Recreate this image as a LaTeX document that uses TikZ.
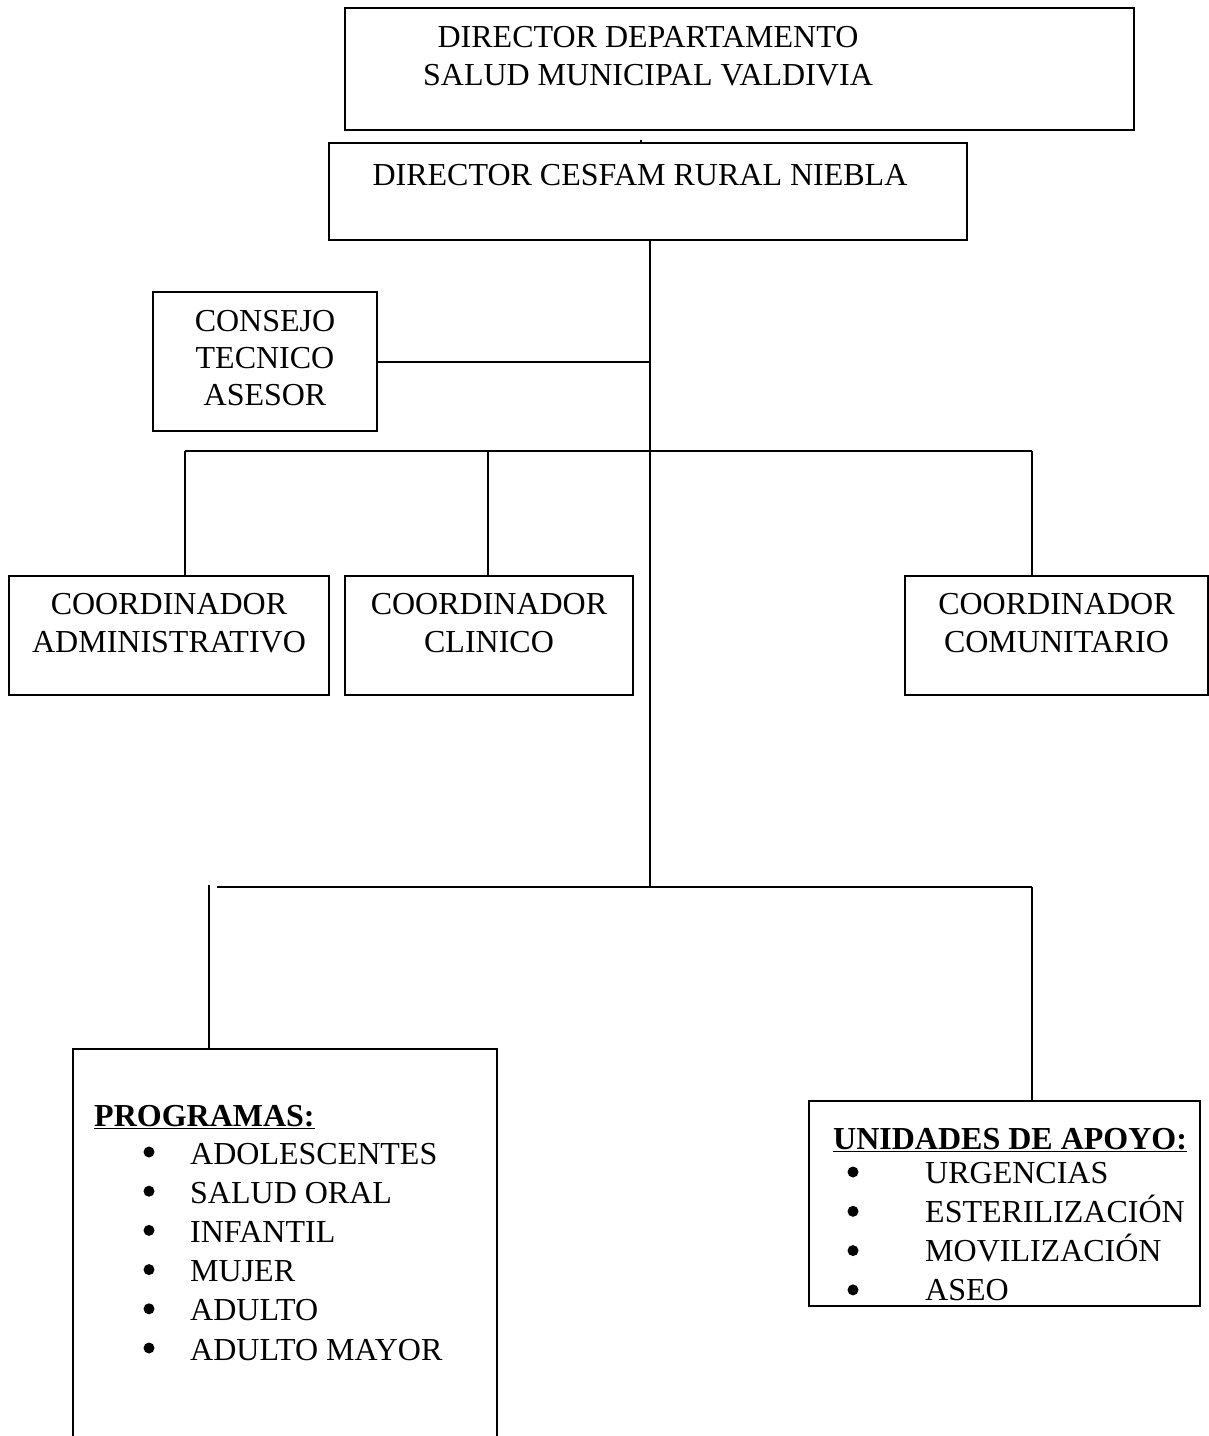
\documentclass[tikz,border=0pt]{standalone}
\usepackage{fontspec}
\setmainfont{Liberation Serif}
\begin{document}
\begin{tikzpicture}[x=1pt,y=-1pt,
  box/.style={draw, line width=1.8pt, rectangle, inner sep=0pt},
  txt/.style={font=\fontsize{32}{38}\selectfont, align=center, inner sep=0pt},
  itm/.style={font=\fontsize{32}{38}\selectfont, anchor=base west, inner sep=0pt},
  dot/.style={circle, fill=black, inner sep=0pt, minimum size=11pt},
  ln/.style={line width=1.8pt}]
\useasboundingbox (0,0) rectangle (1209,1436);

% boxes
\node[box, minimum width=789pt, minimum height=122pt] (b1) at (739.5,69) {};
\node[txt] (b1t) at (648,56) {DIRECTOR DEPARTAMENTO\\SALUD MUNICIPAL VALDIVIA};

\node[box, minimum width=638pt, minimum height=97pt] (b2) at (648,191.5) {};
\node[txt] (b2t) at (640,175) {DIRECTOR CESFAM RURAL NIEBLA};

\node[box, minimum width=224pt, minimum height=139pt] (cons) at (265,361.5) {};
\node[txt, font=\fontsize{32}{37}\selectfont] (const) at (265,358) {CONSEJO\\TECNICO\\ASESOR};

\node[box, minimum width=320pt, minimum height=119pt] (adm) at (169,635.5) {};
\node[txt] (admt) at (169,623.5) {COORDINADOR\\ADMINISTRATIVO};

\node[box, minimum width=288pt, minimum height=119pt] (cli) at (489,635.5) {};
\node[txt] (clit) at (489,623.5) {COORDINADOR\\CLINICO};

\node[box, minimum width=303pt, minimum height=119pt] (com) at (1056.5,635.5) {};
\node[txt] (comt) at (1056.5,623.5) {COORDINADOR\\COMUNITARIO};

\node[box, minimum width=424pt, minimum height=401pt] (prog) at (285,1249.5) {};
\node[itm] (progh) at (94,1126) {\textbf{\underline{PROGRAMAS:}}};
\foreach \t [count=\i] in {ADOLESCENTES,SALUD ORAL,INFANTIL,MUJER,ADULTO,ADULTO MAYOR}{
  \node[dot] (pb\i) at (149,{1152+39.2*(\i-1)}) {};
  \node[itm] (pi\i) at (190,{1164+39.2*(\i-1)}) {\t};
}

\node[box, minimum width=391pt, minimum height=205pt] (uni) at (1004.5,1203.5) {};
\node[itm] (unih) at (833,1149) {\textbf{\underline{UNIDADES DE APOYO:}}};
\foreach \t [count=\i] in {URGENCIAS,ESTERILIZACIÓN,MOVILIZACIÓN,ASEO}{
  \node[dot] (ub\i) at (853,{1172+39.3*(\i-1)}) {};
  \node[itm] (ui\i) at (925,{1183+39.3*(\i-1)}) {\t};
}

% connectors
\coordinate (t) at (641,140);
\draw[ln] (t) -- (t |- b2.north);

\coordinate (j1) at (650,362);
\coordinate (j2) at (650,451);
\coordinate (j3) at (650,887);
\draw[ln] (b2.south -| j1) -- (j3);
\draw[ln] (cons.east |- j1) -- (j1);

\coordinate (h1) at (185,451);
\coordinate (h2) at (488,451);
\coordinate (h4) at (1032,451);
\draw[ln] (h1) -- (h4);
\draw[ln] (h1) -- (h1 |- adm.north);
\draw[ln] (h2) -- (h2 |- cli.north);
\draw[ln] (h4) -- (h4 |- com.north);

\coordinate (k1) at (217,887);
\coordinate (k4) at (1032,887);
\coordinate (k0) at (209,885);
\draw[ln] (k1) -- (k4);
\draw[ln] (k4) -- (k4 |- uni.north);
\draw[ln] (k0) -- (k0 |- prog.north);
\end{tikzpicture}
\end{document}
